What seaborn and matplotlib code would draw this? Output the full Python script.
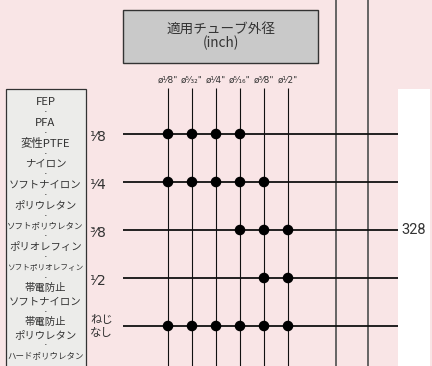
import matplotlib
matplotlib.use("Agg")
import matplotlib.pyplot as plt
import numpy as np
import pandas as pd
import seaborn as sns
from matplotlib.patches import Rectangle

# --- data -------------------------------------------------------------------
tube_sizes = ["ø¹⁄8\"", "ø⁵⁄₃₂\"", "ø¹⁄4\"", "ø⁵⁄₁₆\"", "ø³⁄8\"", "ø¹⁄2\""]
thread_sizes = ["¹⁄8", "¹⁄4", "³⁄8", "¹⁄2", "ねじ\nなし"]
# 1 = fitting available for (thread size, tube OD)
fits = [
    [1, 1, 1, 1, 0, 0],
    [1, 1, 1, 1, 1, 0],
    [0, 0, 0, 1, 1, 1],
    [0, 0, 0, 0, 1, 1],
    [1, 1, 1, 1, 1, 1],
]
materials = [
    "FEP", "PFA", "変性PTFE", "ナイロン", "ソフトナイロン", "ポリウレタン",
    "ソフトポリウレタン", "ポリオレフィン", "ソフトポリオレフィン",
    "帯電防止\nソフトナイロン", "帯電防止\nポリウレタン", "ハードポリウレタン",
]
header = "適用チューブ外径\n(inch)"
part_number = "328"
part_row = 2  # row the part number sits on

# --- layout (pixels) ----------------------------------------------------------
BG = "#f9e5e6"
col_x0, col_dx = 168, 24
row_y0, row_dy = 134, 48
col_x = col_x0 + col_dx * np.arange(len(tube_sizes))
row_y = row_y0 + row_dy * np.arange(len(thread_sizes))

sns.set_theme(style="white")
plt.rcParams["font.family"] = ["Noto Sans CJK JP", "DejaVu Sans"]

fig = plt.figure(figsize=(4.32, 3.66), dpi=100)
fig.patch.set_facecolor(BG)
ax = fig.add_axes([0, 0, 1, 1])

# white strip on the right
ax.add_patch(Rectangle((398, 89), 32, 290, facecolor="white", edgecolor="none", zorder=1))

# header box
ax.add_patch(Rectangle((123, 9.5), 195, 53, facecolor="#c9c9c9",
                       edgecolor="#333333", lw=1.0, zorder=2))
ax.text(220.5, 36, header, ha="center", va="center", fontsize=9.8,
        color="#333333", linespacing=1.05, zorder=3)

# other-series grey verticals
ax.vlines([336, 368], 0, 366, color="#5a5a5a", lw=1.3, zorder=2)

# tube OD columns
ax.vlines(col_x, 88, 366, color="#111111", lw=0.8, zorder=2)
for x, lab in zip(col_x, tube_sizes):
    ax.text(x, 80, lab, ha="center", va="center", fontsize=6.4,
            color="#333333", family=["DejaVu Sans"], zorder=3)

# thread-size rows
ax.hlines(row_y, 123, 398, color="#111111", lw=1.3, zorder=2)
for y, lab in zip(row_y, thread_sizes):
    if "\n" in lab:
        for k, part in enumerate(lab.split("\n")):
            ax.text(90, y - 6 + 13 * k, part, ha="left", va="center",
                    fontsize=8.2, color="#333333", zorder=3)
    else:
        ax.text(89, y + 3, lab, ha="left", va="center", fontsize=10,
                color="#333333", family=["DejaVu Sans"], zorder=3)

# compatibility dots
dots = pd.DataFrame(
    [(col_x[c], row_y[r]) for r, row in enumerate(fits) for c, v in enumerate(row) if v],
    columns=["x", "y"],
)
sns.scatterplot(data=dots, x="x", y="y", color="black", s=58,
                edgecolor="none", ax=ax, zorder=4, legend=False)
ax.set_xlim(0, 432)
ax.set_ylim(366, 0)
ax.axis("off")

ax.text(401, row_y[part_row], part_number, ha="left", va="center",
        fontsize=10.5, color="#333333", family=["Roboto"], zorder=3)

# material box
ax.add_patch(Rectangle((5.5, 89), 80.5, 300, facecolor="#ececea",
                       edgecolor="#333333", lw=0.9, zorder=2))
y = 102
for i, name in enumerate(materials):
    lines = name.split("\n")
    for k, line in enumerate(lines):
        fs = 7.5 if len(line) < 9 else (6.1 if len(line) == 9 else 5.5)
        if line.isascii() or "PTFE" in line:
            fs = 8.2
        ax.text(45.5, y, line, ha="center", va="center", fontsize=fs,
                color="#333333", zorder=3)
        if k < len(lines) - 1:
            y += 13
    if i < len(materials) - 1:
        ax.text(45.5, y + 10.3, "·", ha="center", va="center", fontsize=8,
                color="#333333", family=["DejaVu Sans"], zorder=3)
    y += 20.7

fig.savefig("out.png", dpi=100, facecolor=BG)
